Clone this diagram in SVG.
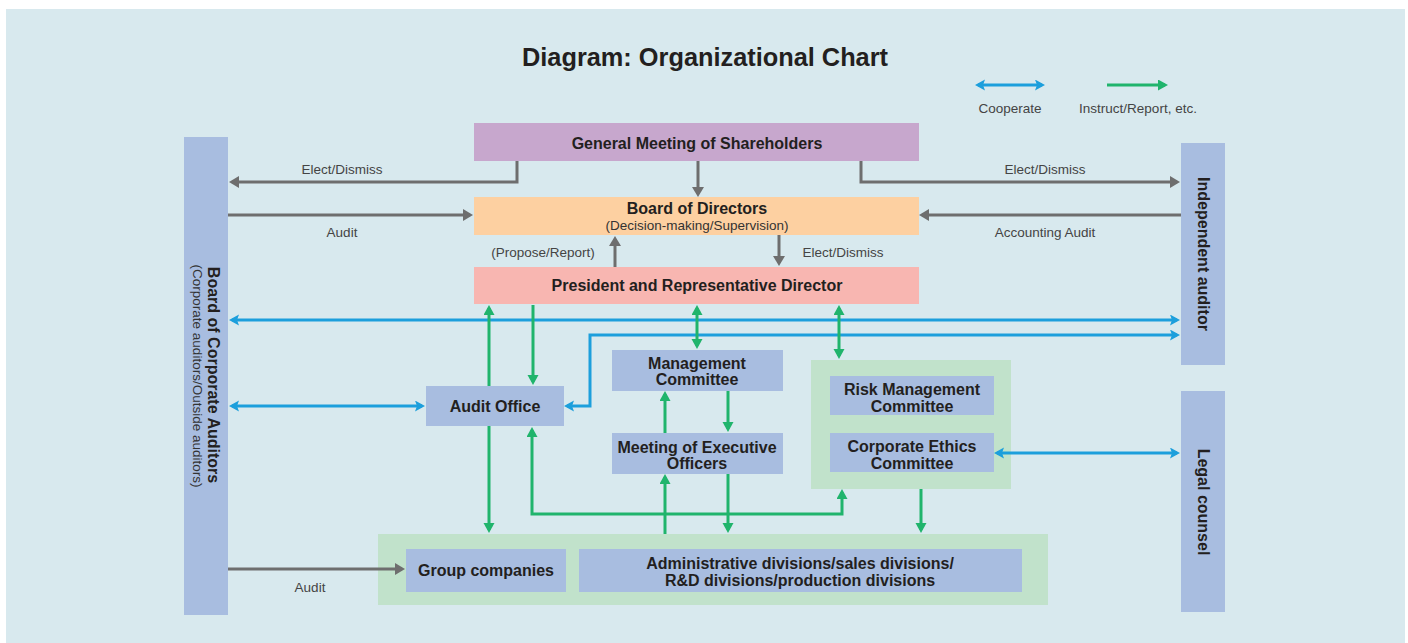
<svg xmlns="http://www.w3.org/2000/svg" width="1408" height="643" viewBox="0 0 1408 643">
  <style>
    .node { fill: #a8bde0; }
    .grp { fill: #c1e2cb; }
    .t { font-family: "Liberation Sans", Arial, sans-serif; font-weight: bold; font-size: 16px; fill: #231f20; text-anchor: middle; }
    .sub { font-family: "Liberation Sans", Arial, sans-serif; font-size: 13.5px; fill: #333; text-anchor: middle; }
    .lbl { font-family: "Liberation Sans", Arial, sans-serif; font-size: 13.5px; fill: #444; text-anchor: middle; }
    .gray { fill: none; stroke: #6e6e6e; stroke-width: 3; marker-end: url(#hGray); }
    .grn { fill: none; stroke: #20b46c; stroke-width: 3; marker-end: url(#hGreen); }
    .grn2 { fill: none; stroke: #20b46c; stroke-width: 3; marker-start: url(#hGreen); marker-end: url(#hGreen); }
    .blu { fill: none; stroke: #1c9fdc; stroke-width: 3; marker-start: url(#hBlue); marker-end: url(#hBlue); }
  </style>
  <defs>
    <marker id="hGray" markerUnits="userSpaceOnUse" markerWidth="12" markerHeight="12" refX="7" refY="6" orient="auto-start-reverse">
      <path d="M0,0 L10,6 L0,12 z" fill="#6e6e6e"/>
    </marker>
    <marker id="hGreen" markerUnits="userSpaceOnUse" markerWidth="12" markerHeight="12" refX="7" refY="5.5" orient="auto-start-reverse">
      <path d="M0,0 L10,5.5 L0,11 z" fill="#20b46c"/>
    </marker>
    <marker id="hBlue" markerUnits="userSpaceOnUse" markerWidth="12" markerHeight="12" refX="7" refY="5.5" orient="auto-start-reverse">
      <path d="M0,0 L10,5.5 L0,11 L2,5.5 z" fill="#1c9fdc"/>
    </marker>
  </defs>

  <!-- backdrop -->
  <rect x="0" y="0" width="1408" height="643" fill="#ffffff"/>
  <rect x="6" y="9" width="1399" height="634" fill="#d8e9ee"/>

  <text x="705" y="66" font-family="'Liberation Sans', Arial, sans-serif" font-weight="bold" font-size="25" fill="#231f20" text-anchor="middle" textLength="366" lengthAdjust="spacingAndGlyphs">Diagram: Organizational Chart</text>

  <!-- legend -->
  <g id="legend">
    <path class="blu" d="M978,85 H1042"/>
    <path class="grn" d="M1107,85 H1165"/>
    <text class="lbl" x="1010" y="113" font-size="14">Cooperate</text>
    <text class="lbl" x="1138" y="113" font-size="14">Instruct/Report, etc.</text>
  </g>

  <!-- group backgrounds -->
  <g id="risk-group"><rect class="grp" x="811" y="360" width="200" height="129"/></g>
  <g id="operations-group"><rect class="grp" x="378" y="534" width="670" height="71"/></g>

  <!-- nodes -->
  <g id="board-of-corporate-auditors">
    <rect class="node" x="184" y="137" width="44" height="478"/>
    <text class="t" transform="translate(207.5,375) rotate(90)">Board of Corporate Auditors</text>
    <text class="sub" transform="translate(192.5,376) rotate(90)">(Corporate auditors/Outside auditors)</text>
  </g>
  <g id="independent-auditor">
    <rect class="node" x="1181" y="143" width="44" height="222"/>
    <text class="t" transform="translate(1197.5,254) rotate(90)">Independent auditor</text>
  </g>
  <g id="legal-counsel">
    <rect class="node" x="1181" y="391" width="44" height="221"/>
    <text class="t" transform="translate(1197.5,502) rotate(90)">Legal counsel</text>
  </g>
  <g id="general-meeting">
    <rect x="474" y="123" width="445" height="38" fill="#c7a7cd"/>
    <text class="t" x="697" y="149">General Meeting of Shareholders</text>
  </g>
  <g id="board-of-directors">
    <rect x="474" y="197" width="445" height="38" fill="#fdd0a1"/>
    <text class="t" x="697" y="214">Board of Directors</text>
    <text class="sub" x="697" y="229.5">(Decision-making/Supervision)</text>
  </g>
  <g id="president">
    <rect x="474" y="267" width="445" height="37" fill="#f8b6b1"/>
    <text class="t" x="697" y="291">President and Representative Director</text>
  </g>
  <g id="audit-office">
    <rect class="node" x="426" y="386" width="138" height="40"/>
    <text class="t" x="495" y="411.5">Audit Office</text>
  </g>
  <g id="management-committee">
    <rect class="node" x="612" y="350" width="171" height="41"/>
    <text class="t" x="697" y="368.5">Management</text>
    <text class="t" x="697" y="384.5">Committee</text>
  </g>
  <g id="executive-officers">
    <rect class="node" x="612" y="433" width="171" height="41"/>
    <text class="t" x="697" y="452.5">Meeting of Executive</text>
    <text class="t" x="697" y="468.5">Officers</text>
  </g>
  <g id="risk-management-committee">
    <rect class="node" x="830" y="376" width="164" height="39"/>
    <text class="t" x="912" y="395">Risk Management</text>
    <text class="t" x="912" y="411.5">Committee</text>
  </g>
  <g id="corporate-ethics-committee">
    <rect class="node" x="830" y="433" width="164" height="39"/>
    <text class="t" x="912" y="452">Corporate Ethics</text>
    <text class="t" x="912" y="468.5">Committee</text>
  </g>
  <g id="group-companies">
    <rect class="node" x="406" y="549" width="160" height="43"/>
    <text class="t" x="486" y="576">Group companies</text>
  </g>
  <g id="divisions">
    <rect class="node" x="579" y="549" width="443" height="43"/>
    <text class="t" x="800" y="568.5">Administrative divisions/sales divisions/</text>
    <text class="t" x="800" y="585.5">R&amp;D divisions/production divisions</text>
  </g>

  <!-- connectors -->
  <g id="connectors">
    <!-- elect / audit relations -->
    <path class="gray" d="M698,161 V194"/>
    <path class="gray" d="M517,161 V182 H232"/>
    <path class="gray" d="M861,161 V182 H1177"/>
    <path class="gray" d="M228,215 H470"/>
    <path class="gray" d="M1181,215 H922"/>
    <path class="gray" d="M615,267 V239"/>
    <path class="gray" d="M779,235 V263"/>
    <path class="gray" d="M228,569 H402"/>

    <!-- cooperation -->
    <path class="blu" d="M232,320 H1177"/>
    <path class="blu" d="M567,406 H590 V335 H1177"/>
    <path class="blu" d="M232,406 H422"/>
    <path class="blu" d="M997,453 H1177"/>

    <!-- instruction / reporting -->
    <path class="grn" d="M489,386 V308"/>
    <path class="grn" d="M533,305 V382"/>
    <path class="grn2" d="M697,308 V346"/>
    <path class="grn2" d="M839,308 V356"/>
    <path class="grn" d="M665,433 V394"/>
    <path class="grn" d="M728,391 V429"/>
    <path class="grn" d="M665,534 V477"/>
    <path class="grn" d="M728,474 V530"/>
    <path class="grn2" d="M532,430 V514 H842 V492"/>
    <path class="grn" d="M489,426 V530"/>
    <path class="grn" d="M921,489 V530"/>

    <!-- connector labels -->
    <text class="lbl" x="342" y="174">Elect/Dismiss</text>
    <text class="lbl" x="1045" y="174">Elect/Dismiss</text>
    <text class="lbl" x="342" y="237">Audit</text>
    <text class="lbl" x="1045" y="237">Accounting Audit</text>
    <text class="lbl" x="543" y="257">(Propose/Report)</text>
    <text class="lbl" x="843" y="257">Elect/Dismiss</text>
    <text class="lbl" x="310" y="592">Audit</text>
  </g>
</svg>
